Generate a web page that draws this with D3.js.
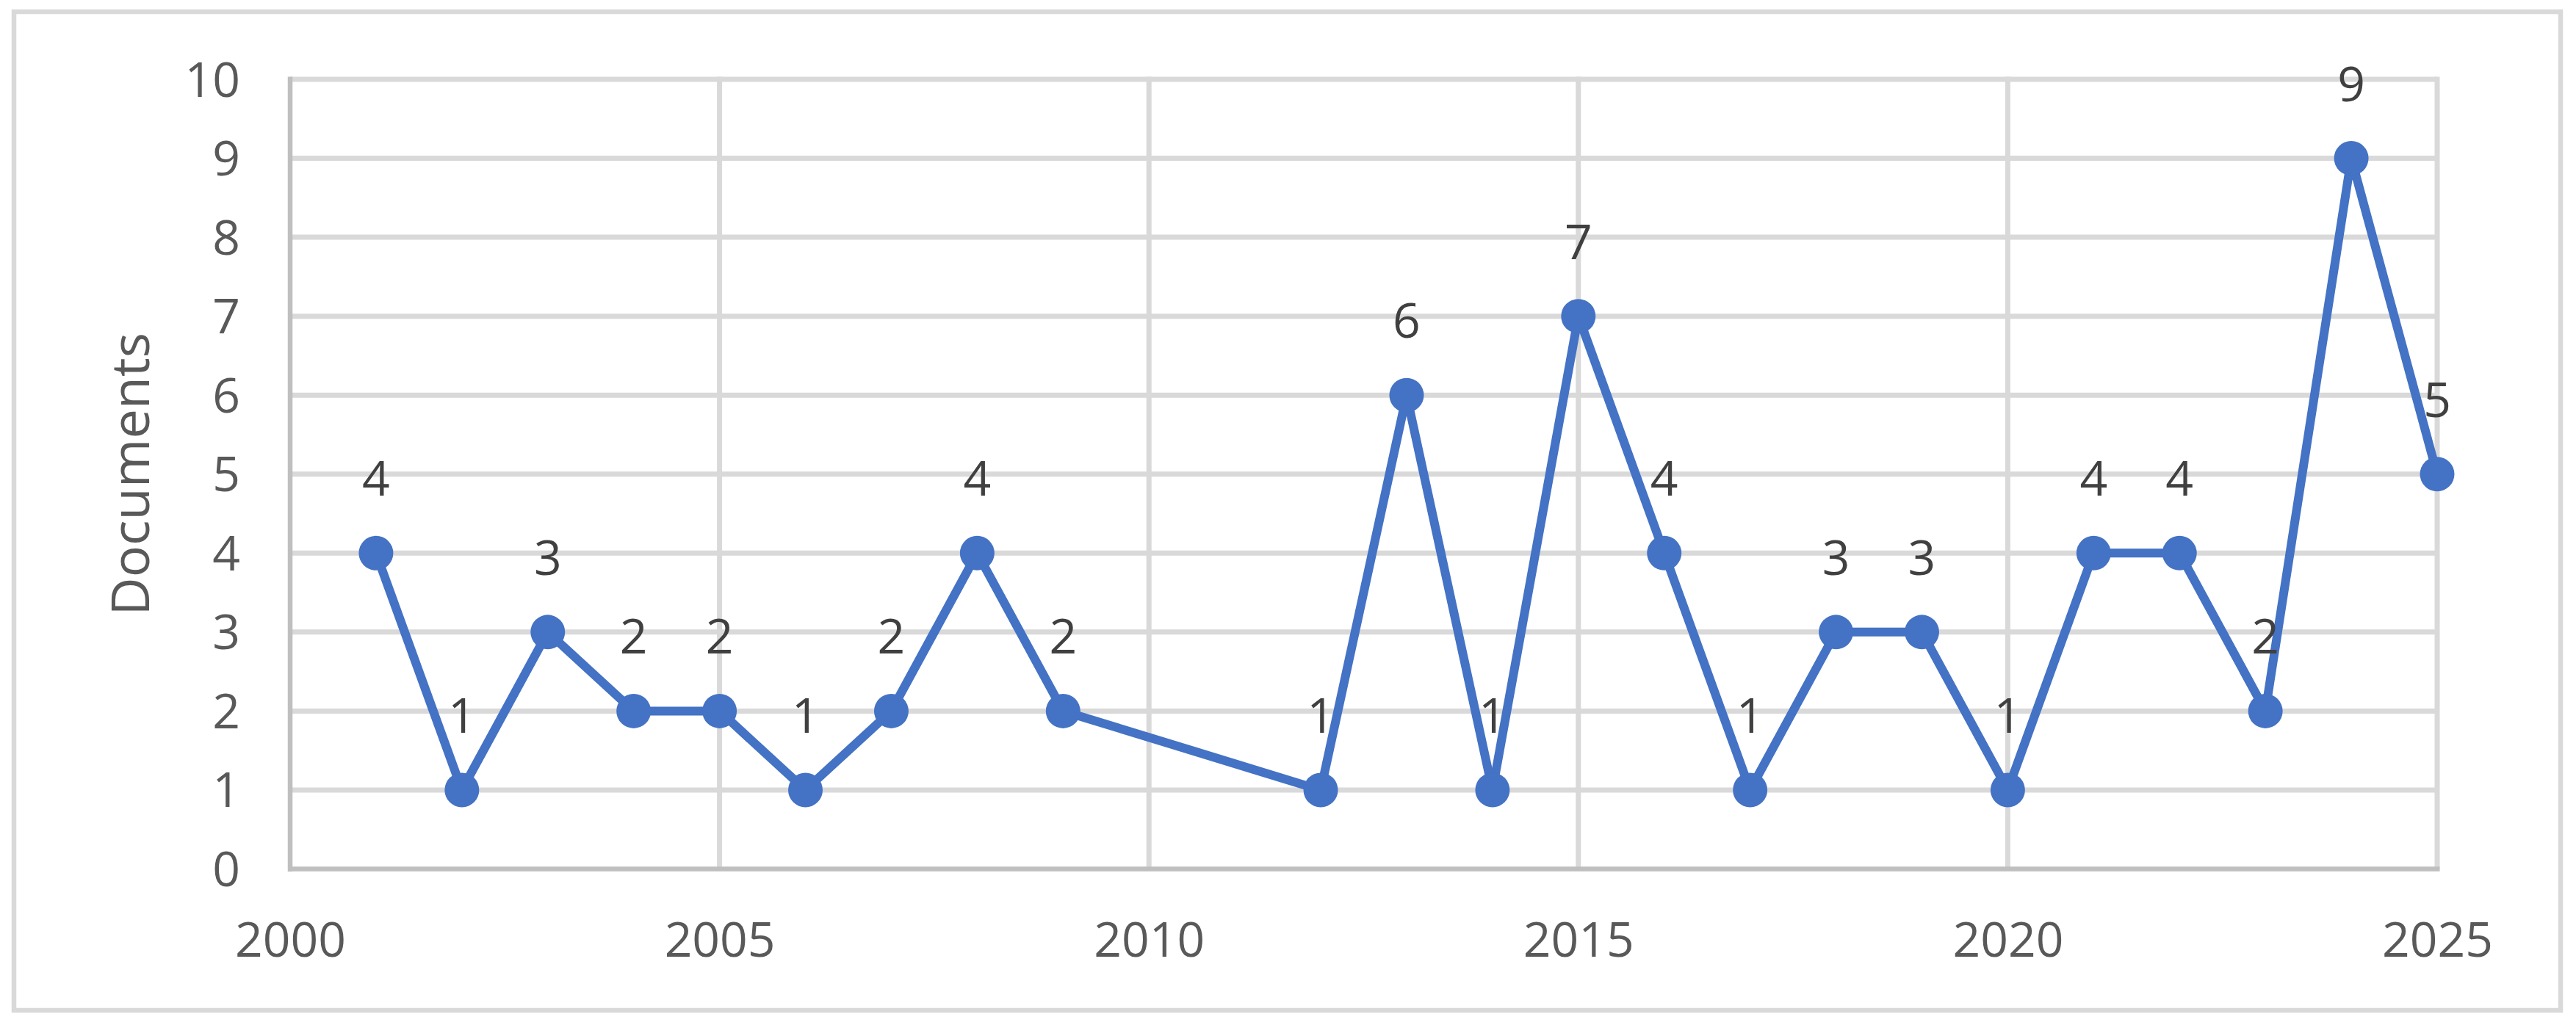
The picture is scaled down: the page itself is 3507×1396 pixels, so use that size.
<!DOCTYPE html>
<html>
<head>
<meta charset="utf-8">
<script src="https://cdn.jsdelivr.net/npm/d3@7"></script>
<style>
  html, body { margin: 0; padding: 0; background: #ffffff; }
  svg { display: block; }
</style>
</head>
<body>
<script>
// ---- data ----
const years  = [2001, 2002, 2003, 2004, 2005, 2006, 2007, 2008, 2009, 2012, 2013, 2014, 2015, 2016, 2017, 2018, 2019, 2020, 2021, 2022, 2023, 2024, 2025];
const values = [4, 1, 3, 2, 2, 1, 2, 4, 2, 1, 6, 1, 7, 4, 1, 3, 3, 1, 4, 4, 2, 9, 5];
const xTicks = [2000, 2005, 2010, 2015, 2020, 2025];
const yTicks = [0, 1, 2, 3, 4, 5, 6, 7, 8, 9, 10];
const yTitle = "Documents";

const W = 3507, H = 1396;
const plot = { left: 395, right: 3318, top: 108, bottom: 1183.5 };
const FONT = "'Open Sans', 'Noto Sans', sans-serif";

const svg = d3.select("body").append("svg")
  .attr("width", W).attr("height", H);

svg.append("rect").attr("width", W).attr("height", H).attr("fill", "#ffffff");

// outer chart border
svg.append("rect")
  .attr("x", 19).attr("y", 16)
  .attr("width", 3486 - 19).attr("height", 1376 - 16)
  .attr("fill", "none").attr("stroke", "#d9d9d9").attr("stroke-width", 6.5);

const x = d3.scaleLinear().domain([2000, 2025]).range([plot.left, plot.right]);
const y = d3.scaleLinear().domain([0, 10]).range([plot.bottom, plot.top]);

// gridlines
const grid = svg.append("g");
grid.selectAll("line.h").data(yTicks.filter(d => d > 0)).enter().append("line")
  .attr("x1", plot.left).attr("x2", plot.right)
  .attr("y1", d => y(d)).attr("y2", d => y(d))
  .attr("stroke", "#d9d9d9").attr("stroke-width", 7);
grid.selectAll("line.v").data(xTicks.filter(d => d > 2000)).enter().append("line")
  .attr("y1", plot.top - 3.5).attr("y2", plot.bottom)
  .attr("x1", d => x(d)).attr("x2", d => x(d))
  .attr("stroke", "#d9d9d9").attr("stroke-width", 7);

// axis lines
svg.append("line")
  .attr("x1", plot.left).attr("x2", plot.left)
  .attr("y1", plot.top - 3.5).attr("y2", plot.bottom + 3.5)
  .attr("stroke", "#bfbfbf").attr("stroke-width", 6.5);
svg.append("line")
  .attr("x1", plot.left - 3).attr("x2", plot.right + 3.5)
  .attr("y1", plot.bottom).attr("y2", plot.bottom)
  .attr("stroke", "#bfbfbf").attr("stroke-width", 6.5);

// y axis labels
const yAxis = d3.axisLeft(y).tickValues(yTicks).tickSize(0).tickPadding(0).tickFormat(d3.format("d"));
const gy = svg.append("g").attr("transform", `translate(327,0)`).call(yAxis);
gy.select(".domain").remove();
gy.selectAll("text")
  .attr("fill", "#595959").attr("font-size", 66).attr("font-family", FONT)
  .attr("x", 0).attr("dy", null).attr("y", 23).attr("text-anchor", "end");

// x axis labels
const xAxis = d3.axisBottom(x).tickValues(xTicks).tickSize(0).tickPadding(0).tickFormat(d3.format("d"));
const gx = svg.append("g").attr("transform", `translate(0,1303)`).call(xAxis);
gx.select(".domain").remove();
gx.selectAll("text")
  .attr("fill", "#595959").attr("font-size", 66).attr("font-family", FONT)
  .attr("y", 0).attr("dy", null).attr("text-anchor", "middle");

// y axis title
svg.append("text")
  .attr("transform", `translate(203,${(plot.top + plot.bottom) / 2}) rotate(-90)`)
  .attr("text-anchor", "middle")
  .attr("fill", "#595959").attr("font-size", 72).attr("font-family", FONT)
  .text(yTitle);

// series
const data = years.map((yr, i) => ({ year: yr, value: values[i] }));
const line = d3.line().x(d => x(d.year)).y(d => y(d.value));
svg.append("path").datum(data)
  .attr("d", line)
  .attr("fill", "none").attr("stroke", "#4472c4")
  .attr("stroke-width", 12).attr("stroke-linejoin", "round");

svg.selectAll("circle.pt").data(data).enter().append("circle")
  .attr("cx", d => x(d.year)).attr("cy", d => y(d.value))
  .attr("r", 23.5).attr("fill", "#4472c4");

// data labels
svg.selectAll("text.lbl").data(data).enter().append("text")
  .attr("x", d => x(d.year)).attr("y", d => y(d.value) - 78)
  .attr("text-anchor", "middle")
  .attr("fill", "#404040").attr("font-size", 66).attr("font-family", FONT)
  .text(d => d.value);
</script>
</body>
</html>
